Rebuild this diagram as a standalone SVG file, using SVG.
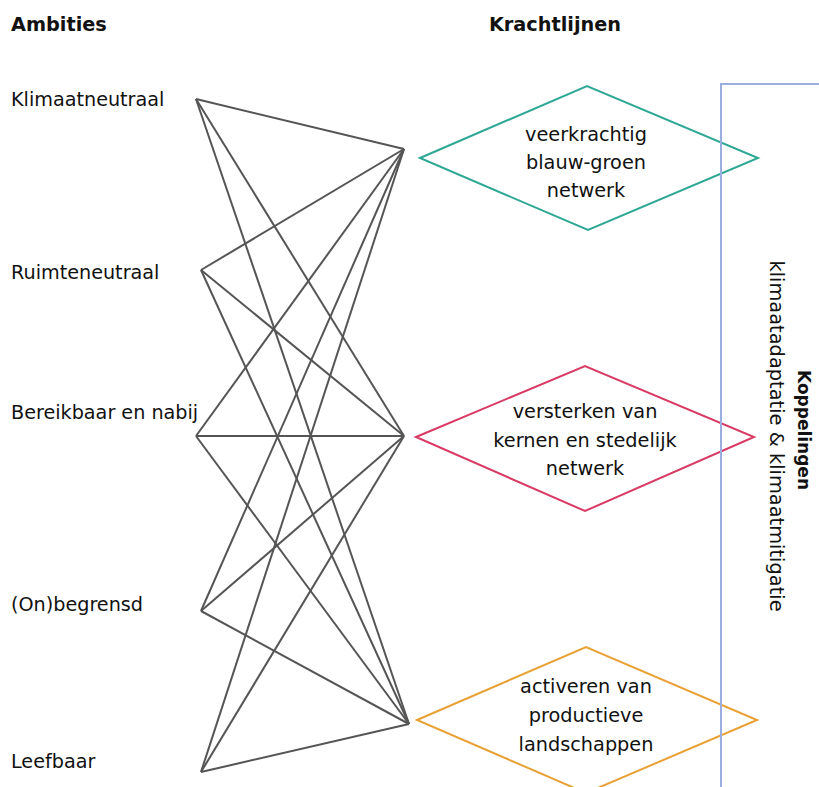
<svg xmlns="http://www.w3.org/2000/svg" width="819" height="787" viewBox="0 0 819 787">
<style>
text{font-family:"DejaVu Sans","Open Sans",sans-serif;fill:#111}
.h{font-weight:bold;font-size:19.3px}
.a{font-size:19.2px}
.d{font-size:19.3px;text-anchor:middle}
.c line{stroke:#555;stroke-width:2}
.dia{fill:none;stroke-width:2}
</style>
<rect width="819" height="787" fill="#fff"/>
<text class="h" x="11" y="31">Ambities</text>
<text class="h" x="555" y="31" text-anchor="middle">Krachtlijnen</text>
<g id="a1"><text class="a" x="11" y="106">Klimaatneutraal</text></g>
<g id="a2"><text class="a" x="11" y="279">Ruimteneutraal</text></g>
<g id="a3"><text class="a" x="11" y="419">Bereikbaar en nabij</text></g>
<g id="a4"><text class="a" x="11" y="611">(On)begrensd</text></g>
<g id="a5"><text class="a" x="11" y="768">Leefbaar</text></g>
<g id="connectors" class="c">
<line x1="196" y1="99" x2="404" y2="149"/><line x1="196" y1="99" x2="404" y2="436"/><line x1="196" y1="99" x2="409" y2="724"/>
<line x1="201" y1="270" x2="404" y2="149"/><line x1="201" y1="270" x2="404" y2="436"/><line x1="201" y1="270" x2="409" y2="724"/>
<line x1="196" y1="436" x2="404" y2="149"/><line x1="196" y1="436" x2="404" y2="436"/><line x1="196" y1="436" x2="409" y2="724"/>
<line x1="201" y1="611" x2="404" y2="149"/><line x1="201" y1="611" x2="404" y2="436"/><line x1="201" y1="611" x2="409" y2="724"/>
<line x1="201" y1="772" x2="404" y2="149"/><line x1="201" y1="772" x2="404" y2="436"/><line x1="201" y1="772" x2="409" y2="724"/>
</g>
<g id="k1"><polygon class="dia" stroke="#2ea895" points="420,158 587,86 758,158 588,230"/>
<text class="d" x="586" y="141">veerkrachtig</text><text class="d" x="586" y="169">blauw-groen</text><text class="d" x="586" y="197">netwerk</text></g>
<g id="k2"><polygon class="dia" stroke="#d93a63" points="416,437 585,366 754,437 585,511"/>
<text class="d" x="585" y="418">versterken van</text><text class="d" x="585" y="447">kernen en stedelijk</text><text class="d" x="585" y="475">netwerk</text></g>
<g id="k3"><polygon class="dia" stroke="#e9a035" points="417,720 586,647 757,720 586,793"/>
<text class="d" x="586" y="693">activeren van</text><text class="d" x="586" y="722">productieve</text><text class="d" x="586" y="751">landschappen</text></g>
<g id="koppelingen"><polyline fill="none" stroke="#9aaedf" stroke-width="2" points="721,787 721,84 819,84"/>
<text transform="translate(798,430) rotate(90)" text-anchor="middle" style="font-weight:bold;font-size:17px">Koppelingen</text>
<text transform="translate(770,436) rotate(90)" text-anchor="middle" style="font-size:19.4px">klimaatadaptatie &amp; klimaatmitigatie</text></g>
</svg>
